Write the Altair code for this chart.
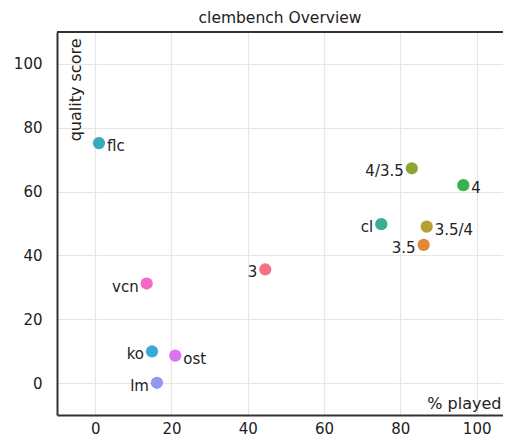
import altair as alt
import pandas as pd

names = ["3", "3.5", "3.5/4", "4/3.5", "4", "cl", "flc", "ko", "lm", "ost", "vcn"]
played = [44.6, 86.1, 86.9, 83.0, 96.5, 75.0, 1.0, 14.9, 16.2, 21.0, 13.5]
quality = [35.6, 43.3, 49.0, 67.3, 62.0, 49.8, 75.2, 9.9, 0.1, 8.6, 31.2]
colors = ["#F47284", "#E2863A", "#B89E33", "#8DA533", "#36B150", "#35AE94",
          "#37ACB8", "#3AA8D6", "#9397F2", "#DB73F0", "#F566C6"]
right_labels = ["flc", "ost", "4", "3.5/4"]

df = pd.DataFrame({"name": names, "played": played, "quality": quality})
df["side"] = ["right" if n in right_labels else "left" for n in names]

FONT = "DejaVu Sans"
INK = "#222222"
W, H = 446, 383

x = alt.X("played:Q", scale=alt.Scale(domain=[-10, 106.9], nice=False, zero=False),
          axis=alt.Axis(values=[0, 20, 40, 60, 80, 100], title="% played",
                        titleX=444, titleY=-7, titleAlign="right",
                        titleBaseline="alphabetic", titleFontWeight="normal",
                        titleFontSize=16, titleColor=INK, titleFont=FONT,
                        ticks=False, labelPadding=6, labelFontSize=15,
                        labelColor=INK, labelFont=FONT, labelBaseline="top",
                        domainColor="#333333", domainWidth=2,
                        gridColor="#e6e6e6", gridWidth=1.2))
y = alt.Y("quality:Q", scale=alt.Scale(domain=[-10, 110], nice=False, zero=False),
          axis=alt.Axis(values=[0, 20, 40, 60, 80, 100], title="quality score",
                        titleX=23, titleY=6, titleAngle=-90, titleAlign="right",
                        titleBaseline="alphabetic", titleFontWeight="normal",
                        titleFontSize=16, titleColor=INK, titleFont=FONT,
                        ticks=False, labelPadding=15, labelFontSize=15,
                        labelColor=INK, labelFont=FONT,
                        domainColor="#333333", domainWidth=2,
                        gridColor="#e6e6e6", gridWidth=1.2))

color = alt.Color("name:N", scale=alt.Scale(domain=names, range=colors), legend=None)

base = alt.Chart(df)

points = base.mark_circle(size=150, opacity=1).encode(x=x, y=y, color=color)

left_text = base.transform_filter(alt.datum.side == "left").mark_text(
    align="right", baseline="middle", dx=-8, dy=3, fontSize=15, font=FONT, color=INK
).encode(x=x, y=y, text="name:N")

right_text = base.transform_filter(alt.datum.side == "right").mark_text(
    align="left", baseline="middle", dx=8, dy=3, fontSize=15, font=FONT, color=INK
).encode(x=x, y=y, text="name:N")

top_spine = base.mark_rule(color="#333333", strokeWidth=2).encode(
    x=alt.value(0), x2=alt.value(W + 10), y=alt.value(0))

chart = alt.layer(points, left_text, right_text, top_spine).properties(
    width=W, height=H,
    title=alt.TitleParams("clembench Overview", fontSize=15.5, font=FONT,
                          fontWeight="normal", color=INK, offset=5),
    autosize=alt.AutoSizeParams(type="none"),
    padding={"left": 49, "top": 24, "right": 0, "bottom": 21},
).configure_view(stroke=None)

chart.save("out.html", embed_options={"renderer": "svg", "actions": False})
